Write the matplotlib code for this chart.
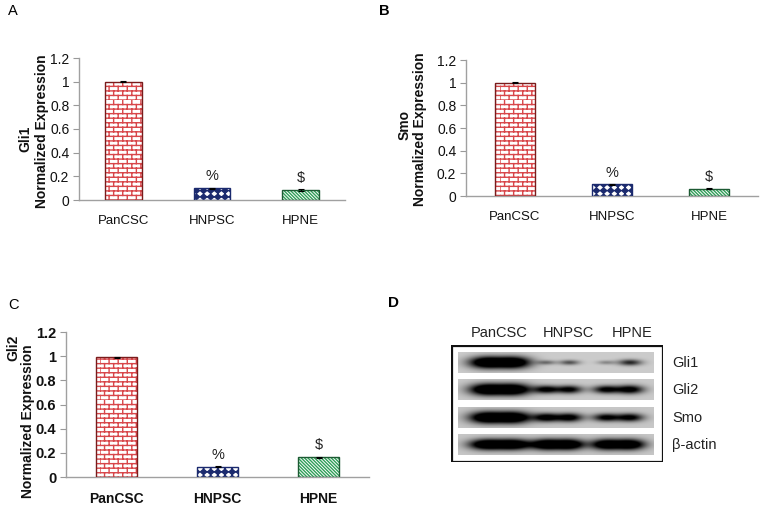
import numpy as np
import matplotlib
matplotlib.use("Agg")
import matplotlib.pyplot as plt
from matplotlib import hatch as mhatch
from matplotlib.path import Path
from matplotlib.patches import Rectangle
from matplotlib.ticker import FuncFormatter

# ---------------- data ----------------
categories = ["PanCSC", "HNPSC", "HPNE"]
gli1_values = [1.00, 0.10, 0.085]
gli1_errors = [0.004, 0.004, 0.005]
smo_values = [1.00, 0.103, 0.064]
smo_errors = [0.003, 0.003, 0.003]
gli2_values = [0.99, 0.085, 0.163]
gli2_errors = [0.006, 0.003, 0.003]
sig_marks = ["", "%", "$"]
yticks = [0, 0.2, 0.4, 0.6, 0.8, 1.0, 1.2]

blot_lanes = ["PanCSC", "HNPSC", "HPNE"]
blot_proteins = ["Gli1", "Gli2", "Smo", "β-actin"]
# band darkness per lane: (left half, right half)
blot_gli1 = [(1.0, 1.0), (0.30, 0.40), (0.22, 0.55)]
blot_gli2 = [(1.0, 1.0), (0.72, 0.72), (0.72, 0.78)]
blot_smo = [(1.0, 1.0), (0.78, 0.78), (0.72, 0.74)]
blot_actin = [(1.0, 1.0), (1.0, 1.0), (0.95, 0.97)]

# ---------------- custom hatches ----------------
class BrickHatch(mhatch.HatchPatternBase):
    def __init__(self, hatch, density):
        self.on = hatch.count("B") > 0
        self.rows, self.cols = 22, 11
        self.num_vertices = (self.rows * 2 + self.rows * self.cols * 2) if self.on else 0

    def set_vertices_and_codes(self, vertices, codes):
        k = 0
        for r in range(self.rows):
            y0 = r / self.rows
            y1 = (r + 1) / self.rows
            vertices[k] = (0.0, y0); codes[k] = Path.MOVETO; k += 1
            vertices[k] = (1.0, y0); codes[k] = Path.LINETO; k += 1
            off = 0.5 * (r % 2)
            for c in range(self.cols):
                xx = (c + off) / self.cols
                vertices[k] = (xx, y0); codes[k] = Path.MOVETO; k += 1
                vertices[k] = (xx, y1); codes[k] = Path.LINETO; k += 1


class DiamondHatch(mhatch.HatchPatternBase):
    def __init__(self, hatch, density):
        self.on = hatch.count("D") > 0
        self.rows, self.cols = 16, 14
        self.num_vertices = self.rows * self.cols * 5 if self.on else 0

    def set_vertices_and_codes(self, vertices, codes):
        k = 0
        hw = 0.44 / self.cols
        hh = 0.44 / self.rows
        for r in range(self.rows):
            for c in range(self.cols):
                cx = (c + 0.5) / self.cols
                cy = (r + 0.5) / self.rows
                pts = [(cx - hw, cy), (cx, cy + hh), (cx + hw, cy), (cx, cy - hh), (cx - hw, cy)]
                cds = [Path.MOVETO, Path.LINETO, Path.LINETO, Path.LINETO, Path.CLOSEPOLY]
                for p, cd in zip(pts, cds):
                    vertices[k] = p; codes[k] = cd; k += 1


mhatch._hatch_types.append(BrickHatch)
mhatch._hatch_types.append(DiamondHatch)
mhatch._validate_hatch_pattern = lambda h: None

plt.rcParams["font.family"] = ["Liberation Sans", "DejaVu Sans"]
plt.rcParams["hatch.linewidth"] = 1.0

W, H = 763, 511
fig = plt.figure(figsize=(W / 100, H / 100), dpi=100)


def fx(x):
    return x / W


def fy(y):
    return 1 - y / H


def add_ax(x0, y0, x1, y1):
    return fig.add_axes([fx(x0), fy(y1), (x1 - x0) / W, (y1 - y0) / H])


hatches = ["B", "D", "\\" * 10]
hatch_colors = ["#d8464a", "#1b2a6e", "#2f9e58"]
edge_colors = ["#7a1c1c", "#1b2a6e", "#1d5a33"]


def bar_panel(ax, vals, errs, bold=False):
    x = np.arange(len(categories))
    w = 0.41
    for i in range(len(categories)):
        ax.bar(x[i], vals[i], width=w, color="white", edgecolor=hatch_colors[i],
               hatch=hatches[i], linewidth=0, zorder=2)
        ax.bar(x[i], vals[i], width=w, fill=False, edgecolor=edge_colors[i],
               linewidth=1.0, zorder=3)
    ax.errorbar(x, vals, yerr=errs, fmt="none", ecolor="black", elinewidth=0.8,
                capsize=2.5, capthick=0.8, zorder=4)
    for i, m in enumerate(sig_marks):
        if m:
            ax.text(x[i], vals[i] + 0.1, m, ha="center", va="center", fontsize=10.5,
                    color="#222222")
    ax.set_xlim(-0.5, len(categories) - 0.5)
    ax.set_ylim(0, 1.2)
    ax.set_yticks(yticks)
    ax.yaxis.set_major_formatter(FuncFormatter(lambda v, p: "%g" % round(v, 2)))
    ax.set_xticks(x)
    fw = "bold" if bold else "normal"
    ax.set_xticklabels(categories, fontsize=10 if bold else 9.5, fontweight=fw,
                       color="#111111")
    for lab in ax.get_yticklabels():
        lab.set_fontsize(10.5 if bold else 10)
        lab.set_fontweight(fw)
        lab.set_color("#111111")
    ax.tick_params(axis="x", length=0, pad=11)
    ax.tick_params(axis="y", length=4, width=0.8, color="#999999", direction="out", pad=3)
    for s in ["top", "right"]:
        ax.spines[s].set_visible(False)
    for s in ["left", "bottom"]:
        ax.spines[s].set_color("#a0a0a0")
        ax.spines[s].set_linewidth(1.0)
    ax.patch.set_alpha(0)


# Panel A
axA = add_ax(79, 58, 345, 200)
bar_panel(axA, gli1_values, gli1_errors)
# Panel B
axB = add_ax(466, 60, 758, 196)
bar_panel(axB, smo_values, smo_errors)
# Panel C
axC = add_ax(66, 332, 369, 477)
bar_panel(axC, gli2_values, gli2_errors, bold=True)

# y-labels
def vtext(x, y, s, size, weight="bold"):
    fig.text(fx(x), fy(y), s, rotation=90, ha="center", va="center", fontsize=size,
             fontweight=weight, color="#111111")

vtext(25, 139, "Gli1", 10)
vtext(42, 131, "Normalized Expression", 10)
vtext(405, 125, "Smo", 10)
vtext(420, 129, "Normalized Expression", 10)
vtext(13, 348, "Gli2", 10)
vtext(28, 421, "Normalized Expression", 10)

# panel letters
fig.text(fx(13), fy(11), "A", ha="center", va="center", fontsize=10.5)
fig.text(fx(384), fy(11), "B", ha="center", va="center", fontsize=10.5, fontweight="bold")
fig.text(fx(13), fy(305), "C", ha="center", va="center", fontsize=10.5)
fig.text(fx(393), fy(303), "D", ha="center", va="center", fontsize=11, fontweight="bold")

# ---------------- Panel D blot ----------------
axD = add_ax(451, 345, 663, 462)
axD.axis("off")
axD.add_patch(Rectangle((451.5, 345.5), 211, 116, fill=False, edgecolor="#111111",
                        linewidth=1.6, zorder=5))

strip_x0, strip_x1 = 458, 654
strip_tops = [352, 379, 407, 434]
strip_h = 21
lane_centers = [500, 558, 618]
lane_halfw = [27, 23, 24]
lane_label_x = [499, 568, 632]
blot_sets = [blot_gli1, blot_gli2, blot_smo, blot_actin]
bg_levels = [0.80, 0.79, 0.78, 0.78]

scale = 4
nx = (strip_x1 - strip_x0) * scale
for si, (top, bands) in enumerate(zip(strip_tops, blot_sets)):
    ny = strip_h * scale
    xs = strip_x0 + (np.arange(nx) + 0.5) / scale
    ys = top + (np.arange(ny) + 0.5) / scale
    X, Y = np.meshgrid(xs, ys)
    dark = np.zeros_like(X)
    yc = top + strip_h / 2
    for li, pair in enumerate(bands):
        cx = lane_centers[li]
        hw = lane_halfw[li]
        for hi, inten in enumerate(pair):
            sub_c = cx + (hi - 0.5) * hw
            sx = hw * (0.3 + 0.35 * inten)
            sy = 1.8 + 4.0 * inten ** 2
            if si == 3:
                sy = 5.2
            prof = np.exp(-((X - sub_c) / sx) ** 2) * np.exp(-((Y - yc) / sy) ** 2)
            dark += 1.5 * inten * prof
    dark = np.clip(dark, 0, 1)
    img = bg_levels[si] * (1 - dark)
    axD.imshow(img, cmap="gray", vmin=0, vmax=1, extent=(strip_x0, strip_x1, top + strip_h, top),
               interpolation="bilinear", aspect="auto", zorder=2)

axD.set_xlim(451, 663)
axD.set_ylim(462, 345)

for li, lab in enumerate(blot_lanes):
    fig.text(fx(lane_label_x[li]), fy(333), lab, ha="center", va="center", fontsize=10.5,
             color="#222222")
for si, lab in enumerate(blot_proteins):
    fig.text(fx(672), fy(strip_tops[si] + strip_h / 2), lab, ha="left", va="center",
             fontsize=10.5, color="#222222")

fig.savefig("out.png", dpi=100)
